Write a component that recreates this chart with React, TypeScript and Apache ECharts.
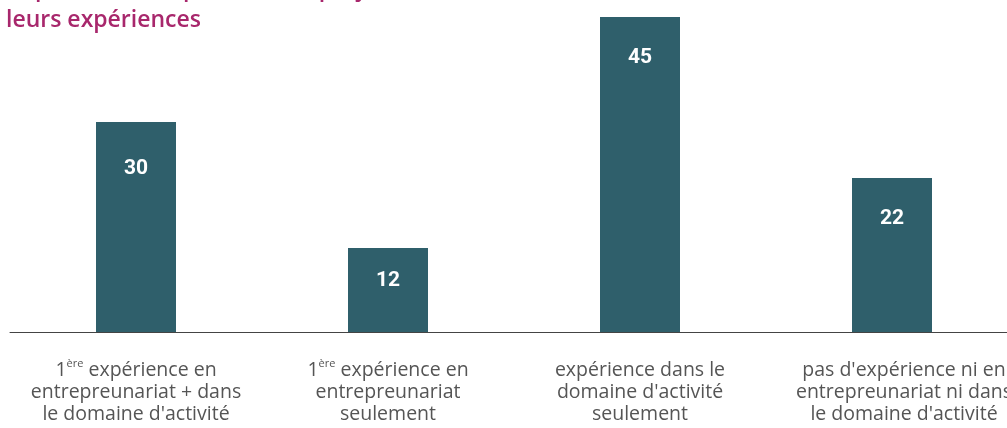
import React, { useEffect, useRef } from "react";
import * as echarts from "echarts";

const titleLine1 = "Répartition des porteurs de projet selon";
const titleLine2 = "leurs expériences";

const categories = [
  "{n|1}{sup|ère}{n| expérience en}\nentrepreunariat + dans\nle domaine d'activité",
  "{n|1}{sup|ère}{n| expérience en}\nentrepreunariat\nseulement",
  "expérience dans le\ndomaine d'activité\nseulement",
  "pas d'expérience ni en\nentrepreunariat ni dans\nle domaine d'activité",
];

const values = [30, 12, 45, 22];

// distance between the top of each bar and its value label
const labelGaps = [34, 20, 28, 28];

const BAR = "#2f5f6b";
const TITLE = "#a8276c";
const TEXT = "#555555";
const FONT = "'Open Sans', Roboto, 'DejaVu Sans', sans-serif";
const NUMFONT = "Roboto, 'DejaVu Sans', sans-serif";

export default function App() {
  const ref = useRef<HTMLDivElement>(null);

  useEffect(() => {
    if (!ref.current) return;
    const chart = echarts.init(ref.current, undefined, { renderer: "svg" });
    chart.setOption({
      animation: false,
      grid: { left: 10, right: 0, top: 17, bottom: 96 },
      xAxis: {
        type: "category",
        data: categories.map((c, i) =>
          i === categories.length - 1
            ? { value: c, textStyle: { padding: [0, 0, 0, 24] } }
            : c
        ),
        axisLine: { show: true, lineStyle: { color: "#444", width: 1 } },
        axisTick: { show: false },
        axisLabel: {
          interval: 0,
          margin: 25,
          color: TEXT,
          fontFamily: FONT,
          fontSize: 19.5,
          lineHeight: 22,
          rich: {
            n: { fontSize: 19.5, lineHeight: 22, color: TEXT, fontFamily: FONT },
            sup: {
              fontSize: 11,
              lineHeight: 14,
              color: TEXT,
              fontFamily: FONT,
              verticalAlign: "top",
            },
          },
        },
      },
      yAxis: {
        type: "value",
        min: 0,
        max: 45,
        show: false,
        splitLine: { show: false },
      },
      series: [
        {
          type: "bar",
          barWidth: 80,
          itemStyle: { color: BAR },
          data: values.map((v, i) => ({
            value: v,
            label: { distance: labelGaps[i] },
          })),
          label: {
            show: true,
            position: "insideTop",
            color: "#ffffff",
            fontFamily: NUMFONT,
            fontWeight: "bold",
            fontSize: 21,
          },
        },
      ],
      graphic: [
        {
          type: "text",
          x: 7,
          y: -13,
          style: {
            text: titleLine1,
            fill: TITLE,
            fontFamily: FONT,
            fontWeight: 600,
            fontSize: 23,
            verticalAlign: "middle",
          },
        },
        {
          type: "text",
          x: 6,
          y: 18,
          style: {
            text: titleLine2,
            fill: TITLE,
            fontFamily: FONT,
            fontWeight: 600,
            fontSize: 23,
            verticalAlign: "middle",
          },
        },
      ],
    });
    return () => chart.dispose();
  }, []);

  return (
    <div
      style={{
        position: "fixed",
        left: 0,
        top: 0,
        width: 1007,
        height: 428,
        overflow: "hidden",
      }}
    >
      <div ref={ref} style={{ width: 1018, height: 428 }} />
    </div>
  );
}
